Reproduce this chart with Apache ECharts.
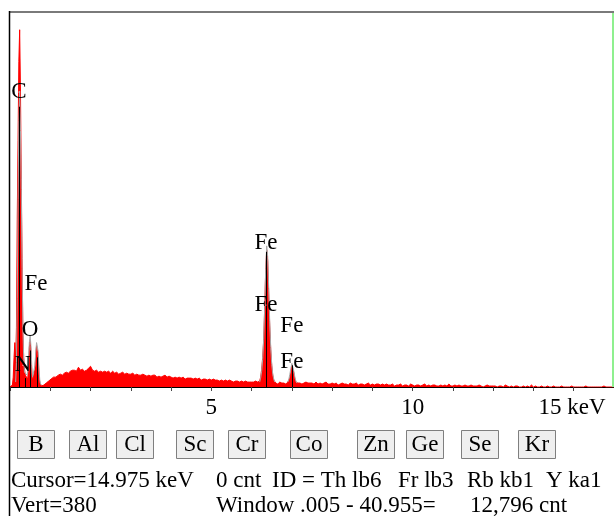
<!DOCTYPE html>
<html>
<head>
<meta charset="utf-8">
<script src="https://cdn.jsdelivr.net/npm/echarts@6/dist/echarts.min.js"></script>
<style>
  html, body { margin: 0; padding: 0; background: #fff; }
  #chart { width: 614px; height: 516px; }
</style>
</head>
<body>
<div id="chart"></div>
<script>
// EDS spectrum: counts per energy channel, stored by energy segment
const lowStart = 0, lowStep = 0.02;
const lowCounts = [
  0, 0, 0, 2, 10, 30, 45, 25, 60, 170,
  250, 330, 362, 300, 210, 130, 55, 30, 18, 12,
  14, 10, 8, 20, 40, 48, 35, 15, 6, 5,
  8, 18, 32, 42, 44, 30, 12, 4, 2, 1,
  1, 1, 2, 3, 3, 4, 5, 4, 6, 7,
  7, 8, 8, 9, 10, 9, 11, 10, 12, 11
];
const midStart = 1.2, midStep = 0.05;
const midCounts = [
  12, 13, 12, 14, 15, 14,
  16, 17, 17, 16, 20, 17, 18, 16, 17, 19,
  21, 17, 16, 17, 15, 16, 15, 16, 15, 16,
  14, 16, 14, 15, 13, 14, 15, 13, 14, 13,
  13, 14, 12, 13, 12, 12, 13, 12, 11, 12,
  11, 12, 12, 10, 11, 10, 11, 12, 10, 11,
  10, 9, 10, 9, 10, 9, 10, 8, 9, 9,
  9, 8, 9, 8, 9, 7, 8, 8, 7, 8,
  7, 8, 7, 7, 6, 7, 6, 7, 6, 7,
  6, 5, 6, 6, 5, 6, 5, 6, 5, 5
];
const feStart = 6.0, feStep = 0.025;
const feCounts = [
  5, 4, 5, 4, 6, 4, 5, 5,
  6, 10, 18, 30, 48, 80, 118, 139, 128, 95, 62, 38, 22, 12, 7, 5,
  4, 5, 3, 4, 5, 4, 4, 5, 4, 4, 3, 5, 5,
  6, 9, 15, 22, 20, 14, 8, 5, 4,
  4, 3, 4, 5, 3, 4, 4, 3, 5, 3, 4, 3, 4, 3
];
const highStart = 7.5, highStep = 0.05;
const highCounts = [
  4, 3, 5, 3, 4, 3, 4, 5, 3, 3, 4, 3, 4, 2, 3, 4, 3, 3, 2, 4,
  3, 3, 4, 2, 3, 3, 2, 3, 4, 2, 3, 2, 3, 3, 2, 3, 2, 3, 2,
  2, 3, 1, 2, 2, 3, 1, 2, 2, 1, 3, 2, 1, 2, 2, 1, 2, 3, 1, 2,
  1, 2, 2, 1, 1, 2, 1, 2, 1, 3, 1, 1, 2, 1, 2, 1, 1, 2, 1, 1,
  2, 1, 1, 1, 2, 1, 0, 1, 2, 1, 1, 1,
  1, 0, 1, 1, 0, 2, 1, 0, 1, 0, 1, 1, 0, 0, 1, 0, 1, 0, 2, 0,
  1, 0, 0, 1, 0, 0, 1, 0, 0, 1,
  0, 0, 0, 1, 0, 0, 0, 0, 1, 0, 0, 0, 0, 0, 0, 1, 0, 0, 0, 0,
  0, 0, 0, 0, 1, 0, 0, 0, 0, 0
];

// Overlay (gray) peak profiles
const grayLowStart = 0.14, grayLowStep = 0.02;
const grayLowCounts = [5, 25, 90, 190, 270, 300, 260, 200, 120, 60, 28, 15, 14, 15, 12, 15,
  28, 45, 52, 42, 22, 10, 8, 12, 22, 36, 45, 46, 36, 18, 7, 3, 2];
const grayKaStart = 6.2, grayKaStep = 0.025;
const grayKaCounts = [5, 9, 16, 28, 48, 80, 120, 143, 132, 100, 66, 40, 23, 13, 8, 5];
const grayKbStart = 6.9, grayKbStep = 0.025;
const grayKbCounts = [5, 8, 13, 19, 24, 22, 16, 10, 6, 4];

// KLM marker lines (keV, counts)
const markerEnergy = [0.235, 0.39, 0.50, 0.68, 6.375, 7.0];
const markerHeight = [284, 9, 37, 30, 137, 22];

// Element labels (text, keV, counts)
const labelText = ['C', 'N', 'O', 'Fe', 'Fe', 'Fe', 'Fe', 'Fe'];
const labelEnergy = [0.22, 0.32, 0.50, 0.645, 6.357, 6.357, 7.0, 7.0];
const labelCount = [299, 22, 58, 104, 146, 83, 62, 25];

const cursorKeV = 14.975;
const vertScale = 380;
const axisMaxKeV = 15;
const majorTicks = [5, 10, 15];

// Element buttons and status lines
const buttonLabels = ['B', 'Al', 'Cl', 'Sc', 'Cr', 'Co', 'Zn', 'Ge', 'Se', 'Kr'];
const statusRow1 = ['Cursor=14.975 keV', '0 cnt', 'ID = Th lb6', 'Fr lb3', 'Rb kb1', 'Y ka1'];
const statusRow2 = ['Vert=380', 'Window .005 - 40.955=', '12,796 cnt'];

// ---- layout ----
const buttonLeft = [17, 69, 116, 176, 228, 290, 357, 406, 461, 518];
const buttonWidth = 37;
const row1Left = [11, 216, 272, 398, 467, 546];
const row2Left = [11, 216, 470];
const FONT = "'Liberation Serif', 'Times New Roman', serif";

function segment(start, step, counts) {
  return counts.map((c, i) => [+(start + i * step).toFixed(4), c]);
}

const spectrum = [].concat(
  segment(lowStart, lowStep, lowCounts),
  segment(midStart, midStep, midCounts),
  segment(feStart, feStep, feCounts),
  segment(highStart, highStep, highCounts)
);

const overlay = [].concat(
  segment(grayLowStart, grayLowStep, grayLowCounts), [[null, null]],
  segment(grayKaStart, grayKaStep, grayKaCounts), [[null, null]],
  segment(grayKbStart, grayKbStep, grayKbCounts)
).map(p => (p[0] === null ? '-' : p));

const markerLines = markerEnergy.map((e, i) => [
  { coord: [e, 0] },
  { coord: [e, markerHeight[i]] }
]);

const labelPoints = labelText.map((t, i) => [labelEnergy[i], labelCount[i], t]);

const graphics = [
  { type: 'line', shape: { x1: 10, y1: 12, x2: 614, y2: 12 }, style: { stroke: '#7a7a7a', lineWidth: 2 }, z: 100 },
  { type: 'line', shape: { x1: 9.5, y1: 11, x2: 9.5, y2: 516 }, style: { stroke: '#000', lineWidth: 1.5 }, z: 100 }
];
buttonLabels.forEach((t, i) => {
  graphics.push({
    type: 'rect',
    shape: { x: buttonLeft[i] + 0.5, y: 430.5, width: buttonWidth, height: 28 },
    style: { fill: '#efefef', stroke: '#7f7f7f', lineWidth: 1 }
  });
  graphics.push({
    type: 'text',
    x: buttonLeft[i] + 0.5 + buttonWidth / 2,
    y: 445,
    style: { text: t, font: '23px ' + FONT, fill: '#000', align: 'center', verticalAlign: 'middle' }
  });
});
statusRow1.forEach((t, i) => {
  graphics.push({
    type: 'text', x: row1Left[i], y: 481,
    style: { text: t, font: '23px ' + FONT, fill: '#000', align: 'left', verticalAlign: 'middle' }
  });
});
statusRow2.forEach((t, i) => {
  graphics.push({
    type: 'text', x: row2Left[i], y: 506,
    style: { text: t, font: '23px ' + FONT, fill: '#000', align: 'left', verticalAlign: 'middle' }
  });
});

const chart = echarts.init(document.getElementById('chart'), null, { renderer: 'canvas' });
chart.setOption({
  animation: false,
  backgroundColor: '#fff',
  grid: { left: 10, right: 0, top: 12, bottom: 129, containLabel: false },
  xAxis: {
    type: 'value', min: 0, max: axisMaxKeV, interval: 1,
    axisLine: { show: true, onZero: false, lineStyle: { color: '#000', width: 1 } },
    axisTick: { show: true, length: 4, lineStyle: { color: '#444' } },
    splitLine: { show: false },
    axisLabel: {
      margin: 9,
      fontFamily: FONT, fontSize: 23, color: '#000',
      formatter: v => {
        if (majorTicks.indexOf(v) < 0) return '';
        return v === axisMaxKeV ? '{end|' + v + ' keV}' : String(v);
      },
      rich: { end: { fontFamily: FONT, fontSize: 23, color: '#000', padding: [0, 84, 0, 0] } }
    }
  },
  yAxis: { type: 'value', min: 0, max: vertScale, show: false },
  series: [
    {
      type: 'line', data: spectrum, symbol: 'none', sampling: null,
      lineStyle: { color: '#ff0000', width: 1 },
      areaStyle: { color: '#ff0000', opacity: 1 },
      z: 2,
      markLine: {
        silent: true, symbol: ['none', 'none'], label: { show: false },
        lineStyle: { color: '#8ff08f', width: 2, type: 'solid' },
        data: [{ xAxis: cursorKeV }]
      }
    },
    {
      type: 'line', data: overlay, symbol: 'none', connectNulls: false,
      lineStyle: { color: '#a8a8a8', width: 1 },
      z: 3,
      markLine: {
        silent: true, symbol: ['none', 'none'], label: { show: false },
        lineStyle: { color: '#000', width: 1, type: 'solid' },
        data: markerLines
      }
    },
    {
      type: 'scatter', data: labelPoints, symbolSize: 1,
      itemStyle: { color: '#fff', opacity: 1 },
      z: 5,
      silent: true,
      labelLayout: { hideOverlap: false },
      label: {
        show: true, position: 'inside',
        formatter: p => p.value[2],
        fontFamily: FONT, fontSize: 23, color: '#000', opacity: 1,
        textBorderWidth: 0
      }
    }
  ],
  graphic: graphics
});
</script>
</body>
</html>
